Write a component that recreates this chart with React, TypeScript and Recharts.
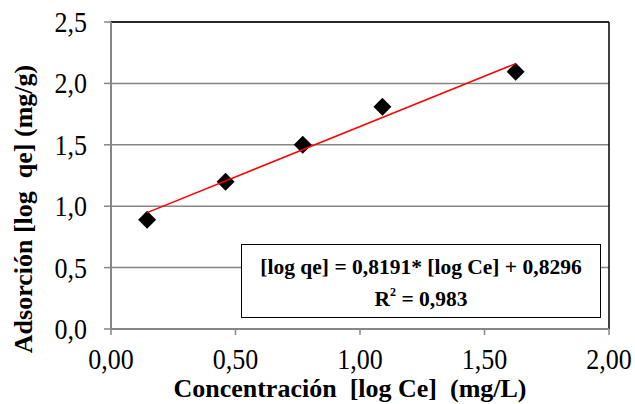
import { ScatterChart, Scatter, XAxis, YAxis, CartesianGrid, ReferenceLine, Label } from "recharts"

const xValues = [0.145, 0.46, 0.77, 1.09, 1.625]
const yValues = [0.89, 1.2, 1.5, 1.81, 2.095]
const trendX = [0.145, 1.625]
const trendY = [0.948, 2.161]
const xTicks = [0, 0.5, 1, 1.5, 2]
const yTicks = [0, 0.5, 1, 1.5, 2, 2.5]

const points = xValues.map((x, i) => ({ x, y: yValues[i] }))
const trend = trendX.map((x, i) => ({ x, y: trendY[i] }))

const font = "'Liberation Serif', 'Times New Roman', serif"
const grey = "#868686"

const Diamond = (props: any) => {
  const { cx, cy } = props
  const r = 9
  return <polygon points={`${cx},${cy - r} ${cx + r},${cy} ${cx},${cy + r} ${cx - r},${cy}`} fill="#000" />
}

// tick labels in the original are a bit taller than wide
const XTick = (props: any) => {
  const { x, y, payload } = props
  return (
    <text transform={`translate(${x} ${y + 34}) scale(1 1.1)`} textAnchor="middle" fontFamily={font} fontSize={26} fill="#000">
      {payload.value.toFixed(2).replace(".", ",")}
    </text>
  )
}

const YTick = (props: any) => {
  const { x, y, payload } = props
  return (
    <text transform={`translate(${x - 17} ${y + 10}) scale(1 1.1)`} textAnchor="end" fontFamily={font} fontSize={26} fill="#000">
      {payload.value.toFixed(1).replace(".", ",")}
    </text>
  )
}

const YTitle = () => (
  <text x={32} y={209} transform="rotate(-90 32 209)" textAnchor="middle"
    fontFamily={font} fontWeight="bold" fontSize={26} fill="#000" style={{ whiteSpace: "pre" }}>
    Adsorción [log  qe] (mg/g)
  </text>
)

const XTitle = () => (
  <text x={350} y={397} textAnchor="middle"
    fontFamily={font} fontWeight="bold" fontSize={26} fill="#000" style={{ whiteSpace: "pre" }}>
    Concentración  [log Ce]  (mg/L)
  </text>
)

export default function App() {
  return (
    <div style={{ position: "absolute", left: 0, top: 0, width: 635, height: 404, background: "#fff" }}>
      <ScatterChart width={635} height={404} margin={{ top: 22, right: 26, bottom: 25, left: 0 }}>
        <CartesianGrid vertical={false} stroke={grey} strokeWidth={1.5} />
        <XAxis
          type="number"
          dataKey="x"
          domain={[0, 2]}
          ticks={xTicks}
          height={50}
          axisLine={{ stroke: grey, strokeWidth: 2 }}
          tickLine={{ stroke: grey, strokeWidth: 1.5 }}
          tickSize={6}
          tickMargin={0}
          tick={XTick}
        >
          <Label content={XTitle} />
        </XAxis>
        <YAxis
          type="number"
          dataKey="y"
          domain={[0, 2.5]}
          ticks={yTicks}
          width={111}
          axisLine={{ stroke: grey, strokeWidth: 2 }}
          tickLine={{ stroke: grey, strokeWidth: 1.5 }}
          tickSize={7}
          tickMargin={0}
          tick={YTick}
        >
          <Label content={YTitle} />
        </YAxis>
        <ReferenceLine y={2.5} stroke="#000" strokeWidth={1.5} />
        <ReferenceLine x={2} stroke="#000" strokeWidth={1.5} />
        <Scatter data={points} shape={Diamond} isAnimationActive={false} />
        <Scatter
          data={trend}
          line={{ stroke: "#ff0000", strokeWidth: 1.5 }}
          shape={() => <g />}
          isAnimationActive={false}
        />
      </ScatterChart>
      <div
        style={{
          position: "absolute",
          left: 241,
          top: 244,
          width: 358,
          height: 72,
          border: "1.5px solid #000",
          background: "#fff",
          fontFamily: font,
          fontWeight: "bold",
          fontSize: 21.5,
          lineHeight: "25px",
          color: "#000",
          textAlign: "center",
        }}
      >
        <div style={{ position: "absolute", left: 0, right: 0, top: 10, whiteSpace: "pre" }}>
          [log qe] = 0,8191* [log Ce] + 0,8296
        </div>
        <div style={{ position: "absolute", left: 0, right: 0, top: 42 }}>
          R<sup style={{ fontSize: 12, verticalAlign: "10px", lineHeight: 0 }}>2</sup> = 0,983
        </div>
      </div>
    </div>
  )
}
